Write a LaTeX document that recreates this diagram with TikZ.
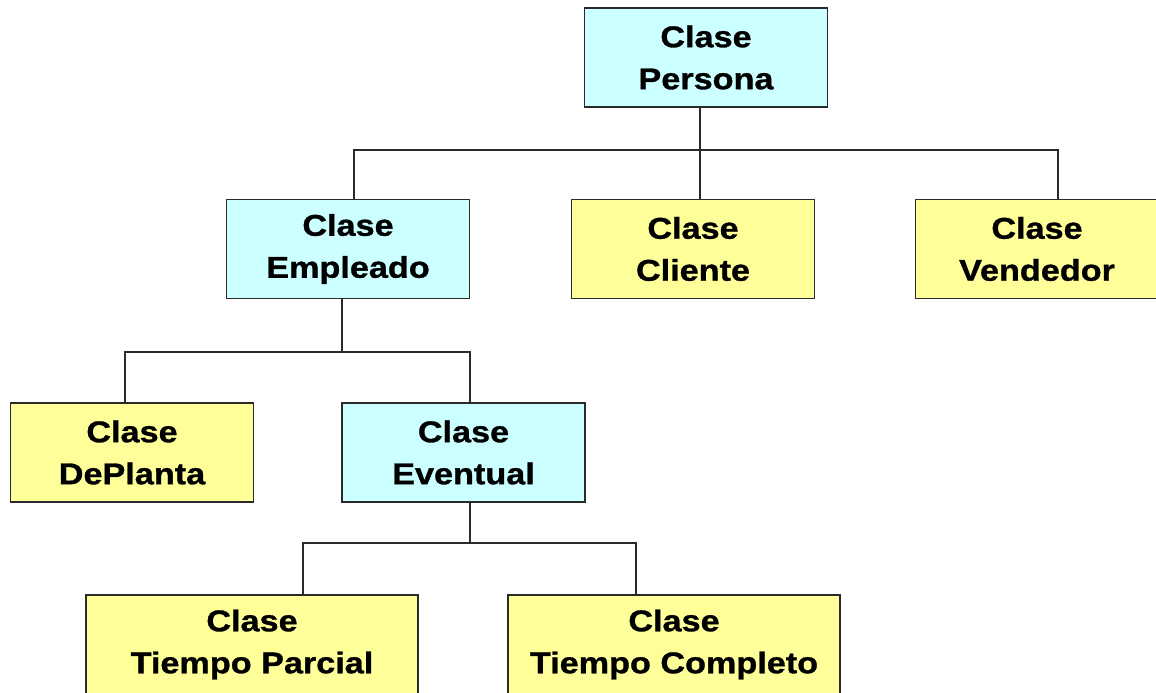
\documentclass[tikz,border=0pt]{standalone}
\usepackage{fontspec}
\setmainfont{Liberation Sans}[FakeStretch=1.14, BoldFeatures={FakeBold=1}]
\definecolor{boxcyan}{HTML}{CCFFFF}
\definecolor{boxyellow}{HTML}{FFFF99}
\definecolor{edge}{HTML}{2A2A2A}
\begin{document}
\begin{tikzpicture}[x=1pt,y=-1pt,
  cls/.style={draw=edge, line width=1.6pt, inner sep=0pt, align=center,
    font=\fontsize{30}{42}\selectfont\bfseries, minimum width=243pt, minimum height=99pt},
  base/.style={cls, fill=boxcyan},
  leaf/.style={cls, fill=boxyellow},
  conn/.style={draw=edge, line width=1.5pt}]
\useasboundingbox (0,0) rectangle (1156,693);

% classes
\node[base] (persona)  at (706,57.5)  {Clase\\Persona};
\node[base] (empleado) at (348,249)   {Clase\\Empleado};
\node[leaf] (cliente)  at (693,249)   {Clase\\Cliente};
\node[leaf] (vendedor) at (1037,249)  {Clase\\Vendedor};
\node[leaf] (deplanta) at (132,452.5) {Clase\\DePlanta};
\node[base] (eventual) at (463.5,452.5) {Clase\\Eventual};
\node[leaf, minimum width=332pt] (parcial)  at (252,644.5) {Clase\\Tiempo Parcial};
\node[leaf, minimum width=332pt] (completo) at (674,644.5) {Clase\\Tiempo Completo};

% attachment points on the boxes
\coordinate (p0) at ([xshift=-6pt]persona.south);
\coordinate (e0) at ([xshift=6pt]empleado.north);
\coordinate (c0) at ([xshift=7pt]cliente.north);
\coordinate (v0) at ([xshift=21pt]vendedor.north);
\coordinate (e1) at ([xshift=-6pt]empleado.south);
\coordinate (d0) at ([xshift=-7pt]deplanta.north);
\coordinate (ev0) at ([xshift=6.5pt]eventual.north);
\coordinate (ev1) at ([xshift=6.5pt]eventual.south);
\coordinate (tp0) at ([xshift=51pt]parcial.north);
\coordinate (tc0) at ([xshift=-38pt]completo.north);

% bus levels
\coordinate (busA) at (0,150);
\coordinate (busB) at (0,352);
\coordinate (busC) at (0,543);

% Persona -> Empleado, Cliente, Vendedor
\draw[conn] (p0) -- (p0 |- busA);
\draw[conn] (e0) -- (e0 |- busA) -- (v0 |- busA) -- (v0);
\draw[conn] (c0 |- busA) -- (c0);

% Empleado -> DePlanta, Eventual
\draw[conn] (e1) -- (e1 |- busB);
\draw[conn] (d0) -- (d0 |- busB) -- (ev0 |- busB) -- (ev0);

% Eventual -> Tiempo Parcial, Tiempo Completo
\draw[conn] (ev1) -- (ev1 |- busC);
\draw[conn] (tp0) -- (tp0 |- busC) -- (tc0 |- busC) -- (tc0);
\end{tikzpicture}
\end{document}
